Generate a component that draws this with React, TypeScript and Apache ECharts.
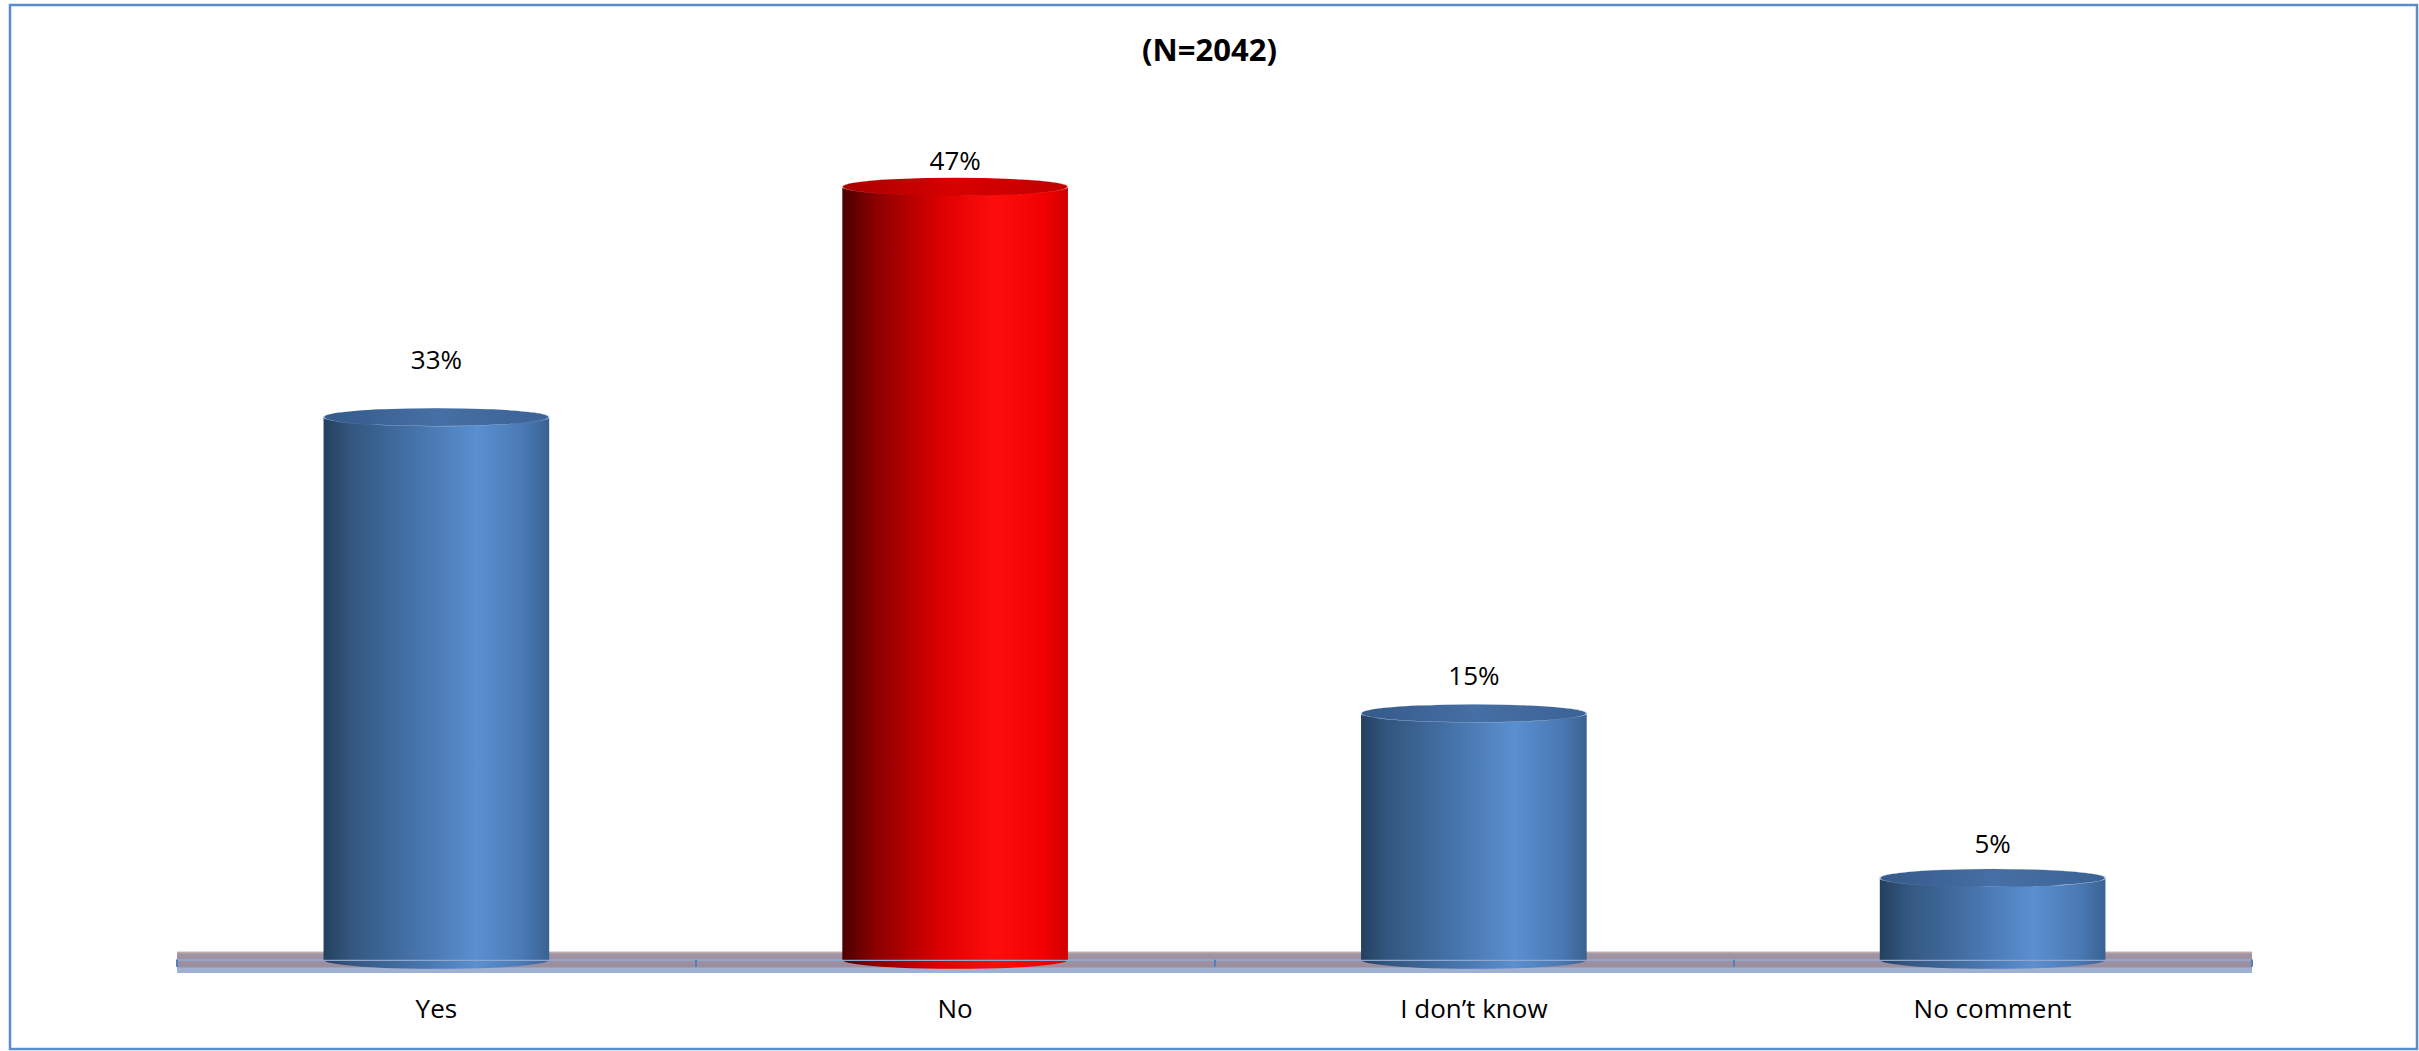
import React, { useEffect, useRef } from "react";
import * as echarts from "echarts";

const categories = ["Yes", "No", "I don’t know", "No comment"];
const values = [33, 47, 15, 5];
const highlighted = [false, true, false, false];
const chartTitle = "(N=2042)";
// label distance above each bar end (style only)
const labelGaps = [36, 4, 16, 13];

const FONT = "'Open Sans', 'Liberation Sans', sans-serif";

export default function App() {
  const ref = useRef<HTMLDivElement>(null);

  useEffect(() => {
    if (!ref.current) return;
    const chart = echarts.init(ref.current, undefined, { renderer: "svg" });
    const LG = echarts.graphic.LinearGradient;

    const blueBody = () =>
      new LG(0, 0, 1, 0, [
        { offset: 0, color: "#24405f" },
        { offset: 0.12, color: "#33577f" },
        { offset: 0.45, color: "#4877b0" },
        { offset: 0.68, color: "#5a8fd0" },
        { offset: 0.88, color: "#4a7ab5" },
        { offset: 1, color: "#3a6293" },
      ]);
    const redBody = () =>
      new LG(0, 0, 1, 0, [
        { offset: 0, color: "#4a0000" },
        { offset: 0.15, color: "#8c0000" },
        { offset: 0.45, color: "#e00000" },
        { offset: 0.68, color: "#ff0d0d" },
        { offset: 0.9, color: "#f00000" },
        { offset: 1, color: "#d00000" },
      ]);
    const blueCap = () =>
      new LG(0, 0, 1, 0, [
        { offset: 0, color: "#35598a" },
        { offset: 0.5, color: "#466fa5" },
        { offset: 1, color: "#3b6396" },
      ]);
    const redCap = () =>
      new LG(0, 0, 1, 0, [
        { offset: 0, color: "#a80000" },
        { offset: 0.5, color: "#d80000" },
        { offset: 1, color: "#c00000" },
      ]);
    const floor = new LG(0, 0, 0, 1, [
      { offset: 0, color: "#c2b8be" },
      { offset: 0.12, color: "#a3939f" },
      { offset: 0.7, color: "#9a8e9f" },
      { offset: 0.78, color: "#a2b0cf" },
      { offset: 1, color: "#9cb0d6" },
    ]);

    const BW = "43.5%";

    chart.setOption({
      animation: false,
      backgroundColor: "#ffffff",
      title: {
        text: chartTitle,
        left: "center",
        top: 28,
        textStyle: { fontSize: 31, fontWeight: "bold", fontFamily: FONT, color: "#000" },
      },
      graphic: [
        {
          type: "rect",
          shape: { x: 10, y: 5, width: 2407, height: 1044 },
          style: { fill: "none", stroke: "#5b8ccf", lineWidth: 2.5 },
          z: 0,
        },
      ],
      grid: { left: 177, right: 167, top: 137, bottom: 78, containLabel: false },
      xAxis: {
        type: "category",
        data: categories,
        axisLine: { show: true, lineStyle: { color: "#8fa6cf", width: 2 } },
        axisTick: { show: true, length: 7, lineStyle: { color: "#4f81bd", width: 2 } },
        axisLabel: { fontSize: 26, fontFamily: FONT, color: "#000", margin: 22 },
        z: 3,
      },
      yAxis: {
        type: "value",
        min: -0.8,
        max: 50,
        show: false,
        splitLine: { show: false },
      },
      series: [
        {
          type: "line",
          data: values.map(() => null),
          symbol: "none",
          lineStyle: { width: 0 },
          silent: true,
          z: 1,
          markArea: {
            silent: true,
            itemStyle: { color: floor },
            data: [[{ yAxis: -0.8 }, { yAxis: 0.5 }]],
          },
        },
        {
          type: "pictorialBar",
          symbol: "circle",
          symbolSize: ["100%", 18],
          symbolPosition: "start",
          symbolOffset: [0, "50%"],
          barWidth: BW,
          barGap: "-100%",
          z: 2,
          silent: true,
          data: values.map((v, i) => ({
            value: v,
            itemStyle: { color: highlighted[i] ? redBody() : blueBody() },
          })),
        },
        {
          type: "bar",
          barWidth: BW,
          barGap: "-100%",
          z: 3,
          data: values.map((v, i) => ({
            value: v,
            itemStyle: { color: highlighted[i] ? redBody() : blueBody() },
          })),
        },
        {
          type: "pictorialBar",
          symbol: "circle",
          symbolSize: ["100%", 18],
          symbolPosition: "end",
          symbolOffset: [0, "-50%"],
          barWidth: BW,
          barGap: "-100%",
          z: 4,
          label: {
            show: true,
            position: "top",
            formatter: "{c}%",
            fontSize: 26,
            fontFamily: FONT,
            color: "#000",
          },
          data: values.map((v, i) => ({
            value: v,
            itemStyle: {
              color: highlighted[i] ? redCap() : blueCap(),
              borderColor: highlighted[i] ? "#ffb0b0" : "#cfe0f7",
              borderWidth: 2.5,
            },
            label: { distance: labelGaps[i] },
          })),
        },
      ],
    });

    return () => chart.dispose();
  }, []);

  return (
    <div
      ref={ref}
      style={{ position: "absolute", left: 0, top: 0, width: 2419, height: 1051 }}
    />
  );
}
